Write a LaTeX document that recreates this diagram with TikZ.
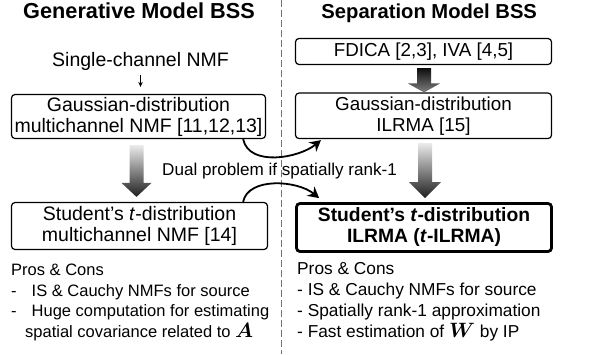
\documentclass[tikz,border=0pt]{standalone}
\usepackage{fontspec}
\setmainfont{Liberation Sans}
\usepackage{bm}
\usetikzlibrary{arrows.meta,calc}
\newcommand\fsz[1]{\fontsize{#1}{21}\selectfont}
% shaded block arrow: #1 start, #2 tip, #3 half shaft, #4 half head, #5 head length, #6 shading
\newcommand\gradarrow[6]{%
  \shade[#6] ($(#1)+(-#3,0)$) -- ($(#1)+(#3,0)$) -- ($(#2)+(#3,-#5)$) -- ($(#2)+(#4,-#5)$) -- (#2) -- ($(#2)+(-#4,-#5)$) -- ($(#2)+(-#3,-#5)$) -- cycle;}
\begin{document}
\begin{tikzpicture}[x=1pt,y=-1pt,
  every node/.style={inner sep=0pt},
  titletext/.style={anchor=base, font=\bfseries},
  box/.style={draw, rounded corners=3.5pt, line width=1.2pt, align=center},
  thickbox/.style={box, line width=2.8pt},
  ltext/.style={anchor=base west},
  curvearrow/.style={line width=1.8pt, -{Stealth[length=11pt,width=12pt]}},
  lightdark/.style={top color=black!8, bottom color=black!88},
  darklight/.style={top color=black!95, bottom color=black!50},
]
\useasboundingbox (0,0) rectangle (609,354);

% divider
\draw[black!55, line width=0.9pt, dash pattern=on 7pt off 3pt] (281,0) -- (281,354);

% titles
\node[titletext, font=\fsz{21.7}\bfseries] (gtitle) at (139,18.5) {Generative Model BSS};
\node[titletext, font=\fsz{20.2}\bfseries] (stitle) at (429.2,18.5) {Separation Model BSS};

% left column
\node[anchor=base, font=\fsz{19.5}] (single) at (140.5,66.5) {Single-channel NMF};
\node[box, font=\fsz{19.5}, minimum width=254pt, minimum height=44pt] (gnmf) at (138.5,116.5)
  {Gaussian-distribution\\multichannel NMF [11,12,13]};
\node[box, font=\fsz{19.5}, minimum width=256pt, minimum height=47pt] (tnmf) at (139.5,226)
  {Student’s \textit{t}-distribution\\multichannel NMF [14]};

% right column
\node[box, font=\fsz{18.8}, minimum width=256pt, minimum height=26pt] (fdica) at (423.5,51.5)
  {FDICA [2,3], IVA [4,5]};
\node[box, font=\fsz{18.8}, minimum width=256pt, minimum height=45.5pt] (gilrma) at (423.5,115.8)
  {Gaussian-distribution\\ILRMA [15]};
\node[thickbox, font=\fsz{19.3}\bfseries, minimum width=255pt, minimum height=48pt] (tilrma) at (424,227.5)
  {Student’s \textit{t}-distribution\\ILRMA (\textit{t}-ILRMA)};

% thin arrow
\draw[line width=0.8pt, -{Stealth[length=5pt,width=4.5pt]}, shorten <=4pt, shorten >=7pt]
  (single.south) -- (single.south |- gnmf.north);

% shaded block arrows
\coordinate (a1s) at ($(gnmf.south)+(-2,6)$);
\coordinate (a1e) at ($(a1s |- tnmf.north)+(0,-5)$);
\gradarrow{a1s}{a1e}{7}{15}{14}{lightdark}
\coordinate (a2s) at ($(gilrma.south)+(1.5,4)$);
\coordinate (a2e) at ($(a2s |- tilrma.north)+(0,-4)$);
\gradarrow{a2s}{a2e}{7}{16}{16}{lightdark}
\coordinate (a3s) at ($(fdica.south)+(0.5,3)$);
\coordinate (a3e) at ($(a3s |- gilrma.north)+(0,0)$);
\gradarrow{a3s}{a3e}{7}{16}{9}{darklight}

% dual-problem arrows
\coordinate (c1s) at ($(gnmf.south east)+(-23,0)$);
\coordinate (c1e) at ($(gilrma.south west)+(26,1)$);
\draw[curvearrow] (c1s) .. controls +(6,28) and +(-22,18) .. (c1e);
\coordinate (c2s) at ($(tnmf.north east)+(-25,0)$);
\coordinate (c2e) at ($(tilrma.north west)+(24,-4)$);
\draw[curvearrow] (c2s) .. controls +(5,-25) and +(-22,-18) .. (c2e);
\node[ltext, font=\fsz{17.1}] (dual) at (162,175) {Dual problem if spatially rank-1};

% pros & cons, left
\node[ltext, font=\fsz{16.5}] (lp1) at (11,275.5) {Pros \& Cons};
\node[ltext, font=\fsz{16.5}] (lp2) at (11,296) {\makebox[20.5pt][l]{-}IS \& Cauchy NMFs for source};
\node[ltext, font=\fsz{16.5}] (lp3) at (11,316.5) {\makebox[20.5pt][l]{-}Huge computation for estimating};
\node[ltext, font=\fsz{16.5}] (lp4) at (25,337) {spatial covariance related to {\fontsize{22}{22}\selectfont$\bm{A}$}};

% pros & cons, right
\node[ltext, font=\fsz{17.3}] (rp1) at (297,274.5) {Pros \& Cons};
\node[ltext, font=\fsz{17.3}] (rp2) at (297,295.5) {- IS \& Cauchy NMFs for source};
\node[ltext, font=\fsz{17.3}] (rp3) at (297,316.5) {- Spatially rank-1 approximation};
\node[ltext, font=\fsz{17.3}] (rp4) at (297,337) {- Fast estimation of {\fontsize{22}{22}\selectfont$\bm{W}$} by IP};
\end{tikzpicture}
\end{document}
